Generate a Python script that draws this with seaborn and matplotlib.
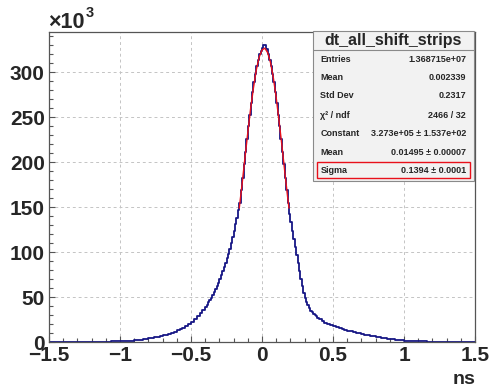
import numpy as np
import pandas as pd
import seaborn as sns
import matplotlib.pyplot as plt
from matplotlib.patches import Rectangle
from matplotlib.lines import Line2D
from matplotlib.ticker import MultipleLocator

sns.set_style('white')
plt.rcParams['font.family'] = ['Liberation Sans', 'DejaVu Sans']

# bin edges: 0.02 ns in the tails, 0.01 ns in the core (-0.4 .. 0.4)
bin_edges = np.round(np.concatenate([np.linspace(-1.5, -0.4, 56),
                                     np.linspace(-0.39, 0.4, 80),
                                     np.linspace(0.42, 1.5, 55)]), 3)

# counts per bin, in units of 10^3
counts_left_tail = [
    0.1, 0.1, 0.1, 0.1, 0.1, 0.1, 0.1, 0.2, 0.2, 0.2,
    0.2, 0.2, 0.2, 0.3, 0.3, 0.3, 0.3, 0.4, 0.4, 0.4,
    0.5, 0.5, 0.6, 0.6, 0.7,
    0.8, 0.9, 1.0, 1.2, 1.4, 1.7, 2.0, 2.4, 2.8, 3.3,
    3.9, 4.5, 5.1, 5.8, 6.5, 7.3, 8.2, 9.2, 10.3, 11.5,
    12.9, 14.4, 16.1, 18.0, 20.2, 22.6, 25.3, 28.4, 31.9, 35.8,
]
counts_core = [
    39.0, 41.5, 44.0, 46.5, 49.4, 52.3, 55.5, 58.7, 62.3, 65.9,
    70.0, 74.2, 78.6, 83.2, 88.1, 93.1, 98.4, 104, 110, 116.5,
    123.5, 131, 138.5, 146.5, 155,
    169, 183, 198, 212, 226, 240, 253, 266, 278, 289,
    298, 307, 314, 320, 324, 327, 330, 330, 326, 320,
    314, 307, 298, 289, 278, 266, 253, 240, 226, 212,
    198, 183, 169, 155,
    143, 133, 124, 115, 106, 97, 88, 79, 70, 62,
    55, 49.5, 45, 41, 37.5, 35, 33, 31.3, 29.8, 28.4, 27.1,
]
counts_right_tail = [
    25.5, 23.5, 21.7, 20.2, 18.8, 17.6, 16.5, 15.4, 14.4, 13.5,
    12.6, 11.8, 11.0, 10.3, 9.6, 8.9, 8.3, 7.7, 7.1, 6.6,
    5.8, 5.2, 4.7, 4.2, 3.7, 3.3, 2.9, 2.5, 2.2, 1.9,
    1.6, 1.4, 1.2, 1.0, 0.9, 0.8, 0.7, 0.6, 0.5, 0.5,
    0.4, 0.4, 0.3, 0.3, 0.3, 0.2, 0.2, 0.2, 0.2, 0.2,
    0.1, 0.1, 0.1, 0.1, 0.1,
]
counts_k = counts_left_tail + counts_core + counts_right_tail

# gaussian fit curve (x in ns, y in 10^3)
fit_x = [-0.16, -0.14, -0.12, -0.10, -0.08, -0.06, -0.04, -0.02, 0.00, 0.02,
         0.04, 0.06, 0.08, 0.10, 0.12, 0.14, 0.16, 0.18, 0.19]
fit_k = [149, 176, 205, 233, 260, 283, 303, 317, 325, 327,
         322, 311, 294, 272, 246, 219, 190, 162, 149]

xtick_vals = [-1.5, -1, -0.5, 0, 0.5, 1, 1.5]
xtick_labels = ['\u22121.5', '\u22121', '\u22120.5', '0', '0.5', '1', '1.5']
ytick_vals = [0, 50, 100, 150, 200, 250, 300]

stat_title = 'dt_all_shift_strips'
stat_names = ['Entries', 'Mean', 'Std Dev', '\u03c7\u00b2 / ndf', 'Constant', 'Mean', 'Sigma']
stat_values = ['1.368715e+07', '0.002339', '0.2317', '2466 / 32',
               '3.273e+05 \u00b1 1.537e+02', '0.01495 \u00b1 0.00007', '0.1394 \u00b1 0.0001']

W, H = 493, 387


def fx(px):
    return px / W


def fy(py):
    return 1 - py / H


bin_mid = (bin_edges[:-1] + bin_edges[1:]) / 2
hist_df = pd.DataFrame({'ns': bin_mid, 'count': counts_k})

fig = plt.figure(figsize=(W / 100, H / 100), dpi=100)
ax = fig.add_axes([fx(49), fy(342), (475 - 49) / W, (342 - 32) / H])

sns.histplot(data=hist_df, x='ns', weights='count', bins=list(bin_edges),
             element='step', fill=False, color='#161685', linewidth=1.3, ax=ax)
sns.lineplot(x=fit_x, y=fit_k, color='#e8101a', linewidth=1.0, ax=ax)

ax.set_xlim(-1.5, 1.5)
ax.set_ylim(0, 345)
ax.set_xlabel('')
ax.set_ylabel('')
ax.set_xticks(xtick_vals)
ax.set_xticklabels(xtick_labels)
ax.set_yticks(ytick_vals)
ax.set_yticklabels([str(v) for v in ytick_vals])
ax.xaxis.set_minor_locator(MultipleLocator(0.1))
ax.yaxis.set_minor_locator(MultipleLocator(10))
ax.tick_params(which='both', direction='in', color='#555555', width=0.8,
               bottom=True, left=True, top=False, right=False)
ax.tick_params(which='major', length=4.5, labelsize=15)
ax.tick_params(which='minor', length=3)
ax.tick_params(axis='x', pad=3)
ax.tick_params(axis='y', pad=3)
for lab in ax.get_xticklabels() + ax.get_yticklabels():
    lab.set_fontweight('bold')

ax.grid(True, which='major', linestyle=(0, (3, 3)), color='#c4c4c4', linewidth=0.7)
ax.set_axisbelow(True)
for sp in ax.spines.values():
    sp.set_color('#555555')
    sp.set_linewidth(0.9)

# axis extras
fig.text(fx(48), fy(28.5), '\u00d710', fontsize=15.5, fontweight='bold', va='baseline')
fig.text(fx(86), fy(17), '3', fontsize=10.5, fontweight='bold', va='baseline')
fig.text(fx(475), fy(384), 'ns', fontsize=14, fontweight='bold', ha='right', va='baseline')

# stats box
fig.add_artist(Rectangle((fx(313), fy(181)), (474 - 313) / W, (181 - 31) / H,
                         transform=fig.transFigure, facecolor='#f2f2f2',
                         edgecolor='#8a8a8a', linewidth=0.8))
fig.add_artist(Line2D([fx(313), fx(474)], [fy(50), fy(50)], transform=fig.transFigure,
                      color='#8a8a8a', linewidth=0.8))
fig.text(fx(393.5), fy(41), stat_title, fontsize=11.5, fontweight='bold',
         ha='center', va='center')
row_y = [59, 77.7, 96, 115, 134, 152.7, 170.7]
for name, val, yy in zip(stat_names, stat_values, row_y):
    fig.text(fx(320.5), fy(yy), name, fontsize=6.5, fontweight='bold', ha='left', va='center')
    fig.text(fx(466), fy(yy), val, fontsize=6.5, fontweight='bold', ha='right', va='center')
fig.add_artist(Rectangle((fx(317), fy(178)), (470 - 317) / W, (178 - 162) / H,
                         transform=fig.transFigure, facecolor='none',
                         edgecolor='#e8101a', linewidth=1.0))

fig.savefig('out.png', dpi=100)
